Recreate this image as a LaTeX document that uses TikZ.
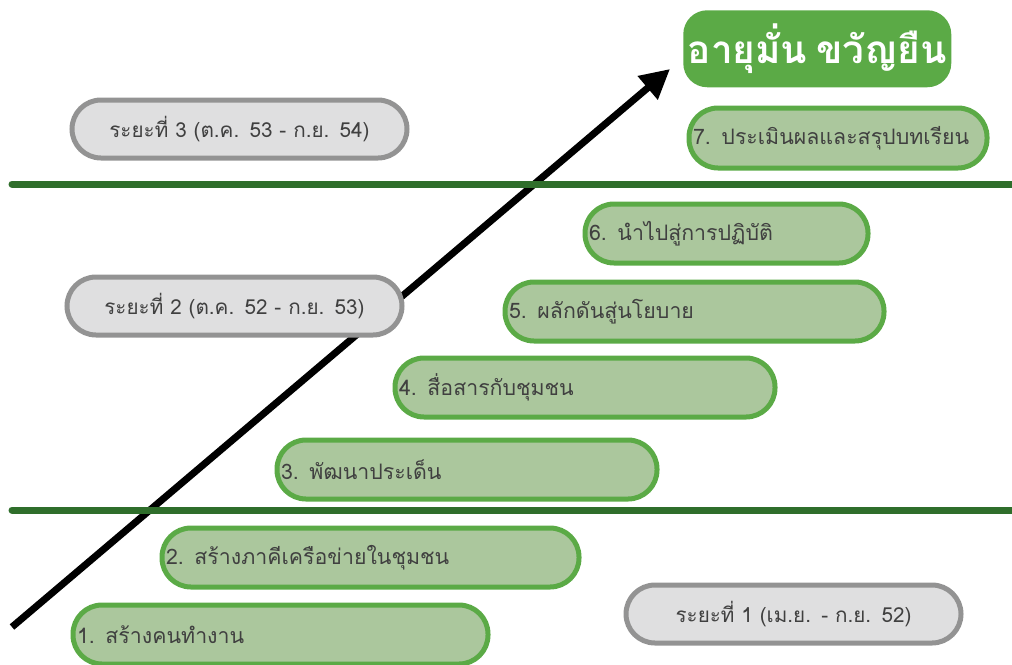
\documentclass[tikz,border=0pt]{standalone}
\usepackage{fontspec}
\newfontfamily\thaifont[Script=Thai,WordSpace=0.7]{Loma}
\usetikzlibrary{arrows.meta}
\definecolor{stepgreen}{HTML}{5BAA46}
\definecolor{stepfill}{HTML}{ABC79D}
\definecolor{phasefill}{HTML}{DFDFE0}
\definecolor{phaseline}{HTML}{939393}
\definecolor{divider}{HTML}{2F6E2B}
\definecolor{labeltext}{HTML}{404040}
\def\pxu{0.75pt}
\tikzset{
  stepbox/.style 2 args={draw=stepgreen, fill=stepfill, line width=5*\pxu,
    rounded corners=29*\pxu, anchor=north west, inner xsep=4*\pxu,
    minimum width=#1*\pxu-5*\pxu, minimum height=#2*\pxu-5*\pxu,
    text width=#1*\pxu-13*\pxu, align=left, text=labeltext,
    font=\thaifont\fontsize{16}{19}\selectfont},
  phasebox/.style 2 args={draw=phaseline, fill=phasefill, line width=5*\pxu,
    rounded corners=29*\pxu, anchor=north west,
    minimum width=#1*\pxu-5*\pxu, minimum height=#2*\pxu-5*\pxu,
    text width=#1*\pxu-15*\pxu, align=center, text=labeltext,
    font=\thaifont\fontsize{15.5}{18}\selectfont},
  titlebox/.style 2 args={fill=stepgreen, rounded corners=24*\pxu, anchor=north west,
    minimum width=#1*\pxu, minimum height=#2*\pxu, text=white,
    font=\thaifont\bfseries\fontsize{29}{34}\selectfont},
  divline/.style={draw=divider, line width=7*\pxu, line cap=round},
  growth/.style={line width=7*\pxu, -{Triangle[length=22pt,width=22pt]}}
}
\begin{document}
\begin{tikzpicture}[x=\pxu, y=-\pxu]
\useasboundingbox (0,0) rectangle (1012,664);

% rising arrow behind everything
\coordinate (tail) at (12,627);
\coordinate (tip) at (670,69);
\draw[growth] (tail) -- (tip);

% dividers between the three phases
\coordinate (d1a) at (12,184);
\coordinate (d1b) at (1020,184);
\coordinate (d2a) at (12,510);
\coordinate (d2b) at (1020,510);
\draw[divline] (d1a) -- (d1b);
\draw[divline] (d2a) -- (d2b);

% goal
\node[titlebox={268}{77}] (goal) at (683,10) {อายุมั่น ขวัญยืน};

% phase labels (outer edge given, border drawn inside)
\node[phasebox={340}{63}] (p3) at ([shift={(2.5,2.5)}]67,95) {ระยะที่ 3 (ต.ค. 53 - ก.ย. 54)};
\node[phasebox={340}{63}] (p2) at ([shift={(2.5,2.5)}]62,272) {ระยะที่ 2 (ต.ค. 52 - ก.ย. 53)};
\node[phasebox={340}{63}] (p1) at ([shift={(2.5,2.5)}]621,580) {ระยะที่ 1 (เม.ย. - ก.ย. 52)};

% steps
\node[stepbox={303}{65}] (s7) at ([shift={(2.5,2.5)}]684,103) {7. ประเมินผลและสรุปบทเรียน};
\node[stepbox={288}{64}] (s6) at ([shift={(2.5,2.5)}]580,199) {6. นำไปสู่การปฏิบัติ};
\node[stepbox={384}{64}] (s5) at ([shift={(2.5,2.5)}]500,277) {5. ผลักดันสู่นโยบาย};
\node[stepbox={385}{64}] (s4) at ([shift={(2.5,2.5)}]390,353) {4. สื่อสารกับชุมชน};
\node[stepbox={385}{64}] (s3) at ([shift={(2.5,2.5)}]272,435) {3. พัฒนาประเด็น};
\node[stepbox={422}{64}] (s2) at ([shift={(2.5,2.5)}]157,523) {2. สร้างภาคีเครือข่ายในชุมชน};
\node[stepbox={420}{64}] (s1) at ([shift={(2.5,2.5)}]68,600) {1. สร้างคนทำงาน};
\end{tikzpicture}
\end{document}
